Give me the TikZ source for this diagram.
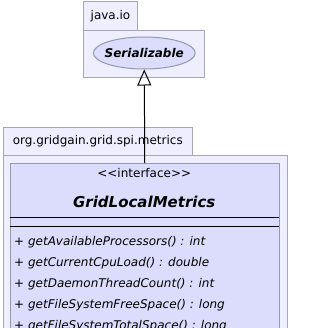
\documentclass[tikz,border=0pt]{standalone}
\usepackage{fontspec}
\setmainfont{DejaVu Sans}
\usepackage{xcolor}
\usepackage{tikz}
\usetikzlibrary{shapes,arrows.meta,positioning,calc}

\definecolor{pkgfill}{HTML}{EEEEFF}
\definecolor{pkgline}{HTML}{A6A6B6}
\definecolor{clsfill}{HTML}{DCDCFC}
\definecolor{clsline}{HTML}{9898AC}

\tikzset{
  pkgbox/.style={draw=pkgline, fill=pkgfill, line width=1pt, inner sep=0pt, anchor=north west},
  clsbox/.style={draw=clsline, fill=clsfill, line width=1pt, inner sep=0pt, anchor=north west},
  method/.style={anchor=west, inner sep=0pt, font=\fontsize{12}{14}\selectfont\itshape}
}

\begin{document}
\begin{tikzpicture}[x=1pt, y=-1pt, font=\fontsize{12}{14}\selectfont]
\useasboundingbox (0,0) rectangle (336,327);
\clip (0,0) rectangle (336,327);
% package java.io
\node[pkgbox, minimum width=54, minimum height=29] (javaio) at (83,1) {java.io};
\node[pkgbox, minimum width=121, minimum height=47] (javaiobody) at (83,30) {};
\node[ellipse, draw=clsline, fill=clsfill, line width=1pt, minimum height=32, inner xsep=-3.5pt, inner ysep=0pt,
      font=\fontsize{12}{14}\selectfont\bfseries\itshape] (serial) at (144.25,53) {Serializable};
% package org.gridgain.grid.spi.metrics
\node[pkgbox, minimum width=188.5, minimum height=28] (metrics) at (3,127) {org.gridgain.grid.spi.metrics};
\node[pkgbox, minimum width=284, minimum height=200] (metricsbody) at (3,155) {};
% the interface box
\node[clsbox, minimum width=269.5, minimum height=190] (glm) at (9.5,163) {};
\node (stereo) at (144.25,173) {<\kern0pt<interface>\kern0pt>};
\node[font=\fontsize{15}{17}\selectfont\bfseries\itshape] (glmname) at (144.25,202) {GridLocalMetrics};
\draw[line width=1pt] (9.5,217) -- (279,217);
\draw[line width=1pt] (9.5,226) -- (279,226);
% operations
\foreach \i/\op in {0/getAvailableProcessors() : int,
                    1/getCurrentCpuLoad() : double,
                    2/getDaemonThreadCount() : int,
                    3/getFileSystemFreeSpace() : long,
                    4/getFileSystemTotalSpace() : long} {
  \node[method] (op\i) at (14,242+21*\i) {+ \op};
}
% realization
\draw[line width=1pt, -{Triangle[open, length=16pt, width=14pt]}] (glm.north) -- (serial.south);
\end{tikzpicture}
\end{document}
